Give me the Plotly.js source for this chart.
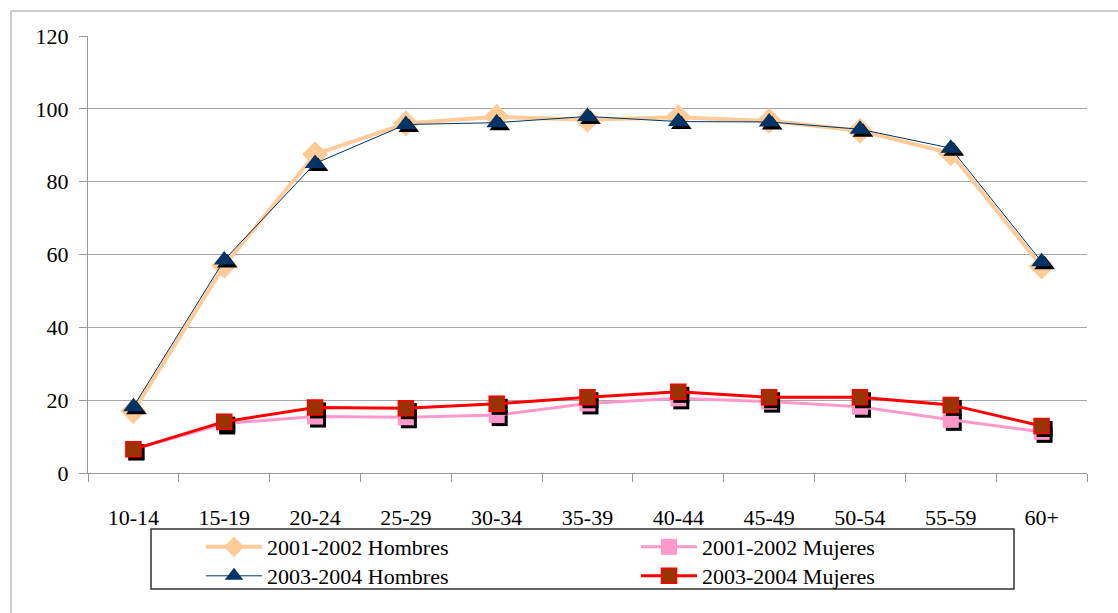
<!DOCTYPE html>
<html>
<head>
<meta charset="utf-8">
<script src="https://cdn.plot.ly/plotly-3.0.1.min.js"></script>
<style>html,body{margin:0;padding:0;background:#fff;}#chart{width:1118px;height:613px;}</style>
</head>
<body>
<div id="chart"></div>
<script>
const categories = ['10-14','15-19','20-24','25-29','30-34','35-39','40-44','45-49','50-54','55-59','60+'];
const hombres0102 = [17, 57, 87.5, 96, 97.8, 97, 97.7, 96.7, 94, 87.8, 56.7];
const hombres0304 = [18.2, 58.5, 85, 95.7, 96.2, 97.9, 96.5, 96.4, 94.4, 89.2, 58];
const mujeres0102 = [6.5, 13.6, 15.5, 15.3, 15.9, 19.1, 20.5, 19.6, 18.2, 14.6, 11.3];
const mujeres0304 = [6.5, 14.1, 18, 17.8, 19, 20.8, 22.3, 20.8, 20.8, 18.7, 12.9];
const names = ['2001-2002 Hombres','2003-2004 Hombres','2001-2002 Mujeres','2003-2004 Mujeres'];

function shadow(y, symbol, size){
  return {x: categories, y: y, type:'scatter', mode:'markers', showlegend:false, hoverinfo:'skip',
    marker:{symbol:symbol, size:size, color:'#000000', line:{width:0}}};
}

const data = [
  {x: categories, y: hombres0102, name: names[0], type:'scatter', mode:'lines+markers', legend:'legend', legendrank:1,
   line:{color:'#FFCC99', width:4}, marker:{symbol:'diamond', size:20, color:'#FFCC99', line:{width:0}}},
  shadow(hombres0304, 'triangle-up', 18),
  {x: categories, y: hombres0304, name: names[1], type:'scatter', mode:'lines+markers', legend:'legend2', legendrank:1,
   line:{color:'#003366', width:1}, marker:{symbol:'triangle-up', size:18, color:'#003366', line:{width:0}}},
  shadow(mujeres0102, 'square', 16),
  {x: categories, y: mujeres0102, name: names[2], type:'scatter', mode:'lines+markers', legend:'legend', legendrank:2,
   line:{color:'#FF99CC', width:3}, marker:{symbol:'square', size:16, color:'#FF99CC', line:{width:0}}},
  shadow(mujeres0304, 'square', 16),
  {x: categories, y: mujeres0304, name: names[3], type:'scatter', mode:'lines+markers', legend:'legend2', legendrank:2,
   line:{color:'#FF0000', width:3}, marker:{symbol:'square', size:15, color:'#993300', line:{color:'#FF0000', width:1.5}}}
];
const shadowIdx = [1,3,5];

const font = "'Liberation Serif', 'Times New Roman', Times, serif";
function legendCfg(y){
  return {orientation:'h', x:(201-88)/999, xanchor:'left', y:y, yanchor:'top',
    bgcolor:'rgba(0,0,0,0)', borderwidth:0, itemwidth:56, entrywidth:364, entrywidthmode:'pixels',
    font:{family:font, size:22, color:'#000'}, traceorder:'normal', tracegroupgap:0, itemclick:false};
}
const layout = {
  width:1118, height:613,
  margin:{l:88, r:31, t:36, b:140},
  paper_bgcolor:'#ffffff', plot_bgcolor:'#ffffff',
  font:{family:font, size:22, color:'#000000'},
  showlegend:true,
  xaxis:{type:'category', range:[-0.5, 10.5], autorange:false, showgrid:false, showline:true, linecolor:'#999999', linewidth:1,
    ticks:'outside', tickson:'boundaries', ticklen:8, tickcolor:'#999999',
    tickfont:{family:font, size:22, color:'#000'}, ticklabelstandoff:25, fixedrange:true},
  yaxis:{range:[0,120], dtick:20, showgrid:true, gridcolor:'#a6a6a6', gridwidth:1,
    showline:true, linecolor:'#999999', linewidth:1, zeroline:false,
    ticks:'outside', ticklen:8, tickcolor:'#999999', ticklabelstandoff:6,
    tickfont:{family:font, size:22, color:'#000'}, fixedrange:true},
  legend: legendCfg((473-526)/437),
  legend2: legendCfg((473-555)/437),
  shapes:[
    {type:'rect', xref:'paper', yref:'paper', x0:(151-88)/999, x1:(1014-88)/999, y0:(473-589)/437, y1:(473-529)/437,
     line:{color:'#333333', width:1.5}, fillcolor:'rgba(0,0,0,0)', layer:'below'},
    {type:'rect', xref:'paper', yref:'paper', x0:(11-88)/999, x1:(1130-88)/999, y0:(473-630)/437, y1:(473-11)/437,
     line:{color:'#999999', width:1}, fillcolor:'rgba(0,0,0,0)', layer:'below'}
  ]
};

Plotly.newPlot('chart', data, layout, {displayModeBar:false, staticPlot:true}).then(function(gd){
  const groups = gd.querySelectorAll('.scatterlayer .trace');
  shadowIdx.forEach(function(i){ if(groups[i]) groups[i].setAttribute('transform','translate(3,3)'); });
});
</script>
</body>
</html>
